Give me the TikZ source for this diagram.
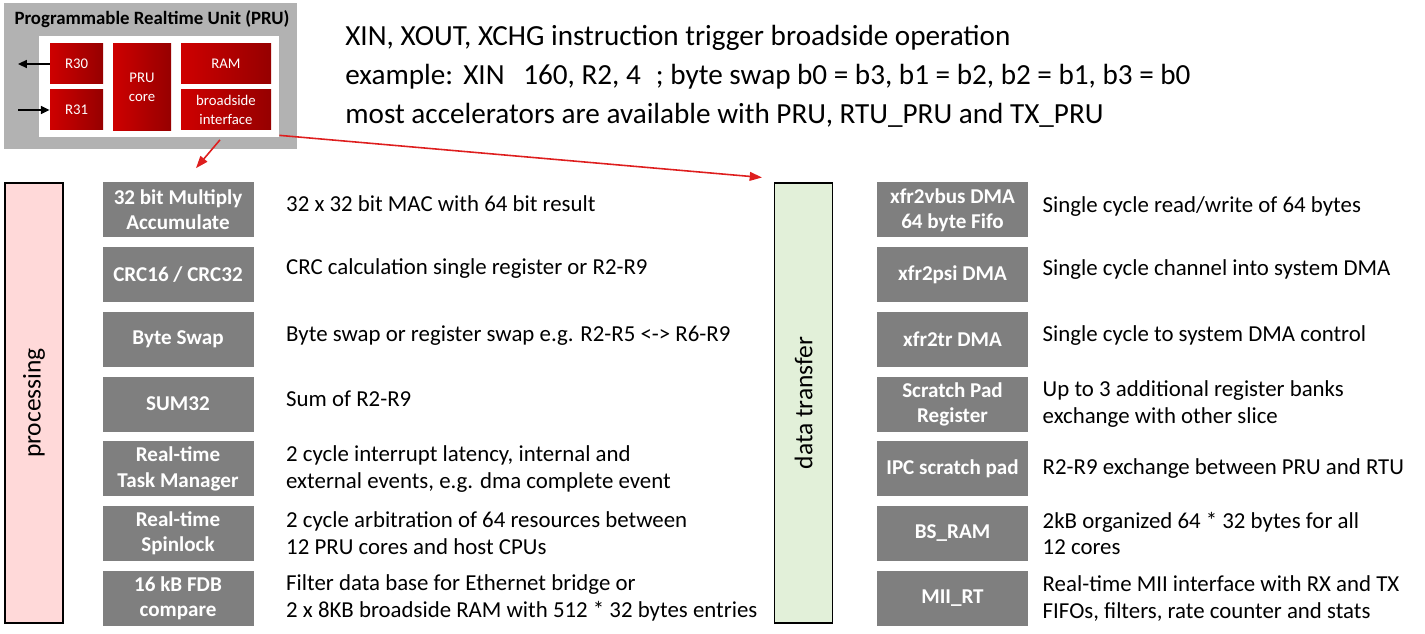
\documentclass[tikz,border=0pt]{standalone}
\usepackage{fontspec}
\setmainfont{Carlito}
\usetikzlibrary{arrows.meta, positioning, calc}
\definecolor{unitGray}{RGB}{178, 178, 178}
\definecolor{accelGray}{RGB}{127, 127, 127}
\definecolor{pruRed}{RGB}{206, 0, 0}
\definecolor{pruRedDark}{RGB}{150, 0, 0}
\definecolor{linkRed}{RGB}{222, 30, 30}
\definecolor{procPink}{RGB}{255, 217, 217}
\definecolor{xferGreen}{RGB}{226, 240, 217}

\begin{document}
\begin{tikzpicture}[
    node distance=0.18cm and 0.64cm,
    % Node styles
    accel/.style={
        rectangle,
        minimum width=3.02cm,
        minimum height=1.1cm,
        inner sep=0pt,
        align=center,
        font=\fontsize{12}{14.4}\selectfont\bfseries,
        text=white,
        fill=accelGray
    },
    desc/.style={
        inner sep=0pt,
        align=left,
        font=\fontsize{13}{15.3}\selectfont
    },
    bar/.style={
        rectangle,
        draw=black,
        line width=0.6pt,
        minimum width=1.16cm,
        minimum height=8.8cm
    },
    bartext/.style={
        rotate=90,
        font=\fontsize{14.5}{16}\selectfont
    },
    reg/.style={
        rectangle,
        inner sep=0pt,
        align=center,
        font=\fontsize{8.4}{10.5}\selectfont,
        text=white,
        left color=pruRed,
        right color=pruRedDark
    },
    arrow/.style={
        -{Triangle[length=5pt, width=4.5pt]},
        line width=1pt,
        color=black
    },
    link/.style={
        -{Triangle[length=7pt, width=5pt]},
        line width=0.9pt,
        color=linkRed
    }
]
\useasboundingbox (0,0) rectangle (28.5,-12.68);

% PRU block
\node[rectangle, fill=unitGray, minimum width=5.86cm, minimum height=2.92cm] (unit) at (3.01,-1.52) {};
\node[font=\fontsize{10.7}{12}\selectfont\bfseries] (title) at (3.04,-0.38) {Programmable Realtime Unit (PRU)};
\node[rectangle, fill=white, minimum width=4.8cm, minimum height=2.02cm] (inner) at (3.18,-1.73) {};
\node[reg, minimum width=1.06cm, minimum height=0.8cm] (r30) at (1.53,-1.28) {R30};
\node[reg, minimum width=1.06cm, minimum height=0.8cm] (r31) at (1.53,-2.2) {R31};
\node[reg, minimum width=1.16cm, minimum height=1.74cm] (core) at (2.84,-1.75) {PRU\\core};
\node[reg, minimum width=1.8cm, minimum height=0.8cm] (ram) at (4.52,-1.28) {RAM};
\node[reg, minimum width=1.8cm, minimum height=0.8cm] (bsif) at (4.52,-2.2) {broadside\\interface};

\coordinate (r30out) at (0.36,-1.28);
\coordinate (r31in) at (0.36,-2.2);
\draw[arrow] (r30) -- (r30out);
\draw[arrow] (r31in) -- (r31);

% Header text
\node[anchor=west, inner sep=0pt, align=left, font=\fontsize{16.6}{22.1}\selectfont] (hdr) at (6.9,-1.52) {%
XIN, XOUT, XCHG instruction trigger broadside operation\\
\makebox[2.36cm][l]{example:}\makebox[1.2cm][l]{XIN}160, R2, 4\hspace{0.3cm}; byte swap b0 = b3, b1 = b2, b2 = b1, b3 = b0\\
most accelerators are available with PRU, RTU\_PRU and TX\_PRU};

% Side bars
\node[bar, fill=procPink, label={[bartext]center:processing}] (proc) at (0.68,-8.06) {};
\node[bar, fill=xferGreen, label={[bartext]center:data transfer}] (xfer) at (16.07,-8.06) {};

% Processing accelerators
\node[accel] (mac) at (3.56,-4.2) {32 bit Multiply\\Accumulate};
\node[accel, below=of mac] (crc) {CRC16 / CRC32};
\node[accel, below=of crc] (swap) {Byte Swap};
\node[accel, below=of swap] (sum) {SUM32};
\node[accel, below=of sum] (task) {Real-time\\Task Manager};
\node[accel, below=of task] (spin) {Real-time\\Spinlock};
\node[accel, below=of spin] (fdb) {16 kB FDB\\compare};

\node[desc, right=of mac, yshift=0.13cm] {32 x 32 bit MAC with 64 bit result};
\node[desc, right=of crc, yshift=0.12cm] {CRC calculation single register or R2-R9};
\node[desc, right=of swap, yshift=0.08cm] {Byte swap or register swap e.g. R2-R5 <-> R6-R9};
\node[desc, right=of sum, yshift=0.1cm] {Sum of R2-R9};
\node[desc, right=of task] {2 cycle interrupt latency, internal and\\external events, e.g. dma complete event};
\node[desc, right=of spin] {2 cycle arbitration of 64 resources between\\12 PRU cores and host CPUs};
\node[desc, right=of fdb] {Filter data base for Ethernet bridge or\\2 x 8KB broadside RAM with 512 * 32 bytes entries};

% Data transfer accelerators
\node[accel] (vbus) at (19.05,-4.2) {xfr2vbus DMA\\64 byte Fifo};
\node[accel, below=of vbus] (psi) {xfr2psi DMA};
\node[accel, below=of psi] (tr) {xfr2tr DMA};
\node[accel, below=of tr] (spad) {Scratch Pad\\Register};
\node[accel, below=of spad] (ipc) {IPC scratch pad};
\node[accel, below=of ipc] (bsram) {BS\_RAM};
\node[accel, below=of bsram] (mii) {MII\_RT};

\node[desc, right=0.28cm of vbus, yshift=0.06cm] {Single cycle read/write of 64 bytes};
\node[desc, right=0.28cm of psi, yshift=0.1cm] {Single cycle channel into system DMA};
\node[desc, right=0.28cm of tr, yshift=0.08cm] {Single cycle to system DMA control};
\node[desc, right=0.28cm of spad] {Up to 3 additional register banks\\exchange with other slice};
\node[desc, right=0.28cm of ipc] {R2-R9 exchange between PRU and RTU};
\node[desc, right=0.28cm of bsram] {2kB organized 64 * 32 bytes for all\\12 cores};
\node[desc, right=0.28cm of mii] {Real-time MII interface with RX and TX\\FIFOs, filters, rate counter and stats};

% Links from broadside interface
\coordinate (tapA) at ($(bsif.south |- inner.south)+(-0.12,-0.05)$);
\coordinate (tapB) at ($(inner.south east)+(0,0.04)$);
\coordinate (hitA) at ([xshift=0.36cm, yshift=0.28cm]mac.north);
\coordinate (hitB) at ($(xfer.north west)+(-0.24,0.1)$);
\draw[link] (tapA) -- (hitA);
\draw[link] (tapB) -- (hitB);

\end{tikzpicture}
\end{document}
